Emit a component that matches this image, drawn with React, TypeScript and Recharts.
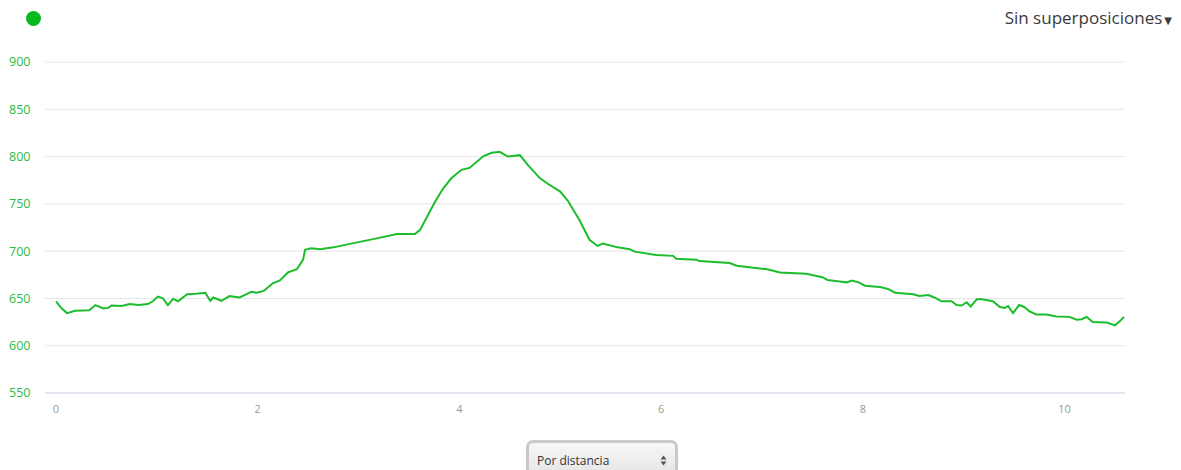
import { CartesianGrid, Line, LineChart, XAxis, YAxis } from "recharts";

const DISTANCE_KM = [
  0, 0.06, 0.11, 0.19, 0.33, 0.39, 0.47, 0.52, 0.55, 0.65, 0.73, 0.82, 0.91, 0.96, 1.01, 1.06, 1.11, 1.16, 1.21,
  1.3, 1.39, 1.48, 1.53, 1.56, 1.64, 1.72, 1.82, 1.89, 1.94, 1.99, 2.06, 2.15, 2.22, 2.3, 2.39, 2.45, 2.47, 2.53,
  2.62, 2.75, 2.95, 3.18, 3.38, 3.56, 3.61, 3.69, 3.76, 3.84, 3.92, 4.02, 4.1, 4.24, 4.32, 4.4, 4.48, 4.6, 4.68,
  4.8, 4.88, 5.0, 5.08, 5.19, 5.29, 5.37, 5.42, 5.57, 5.69, 5.74, 5.95, 6.12, 6.15, 6.35, 6.38, 6.68, 6.75, 7.04,
  7.18, 7.44, 7.6, 7.65, 7.77, 7.84, 7.89, 7.96, 8.02, 8.17, 8.25, 8.32, 8.5, 8.56, 8.65, 8.71, 8.78, 8.88, 8.93,
  8.98, 9.03, 9.07, 9.13, 9.18, 9.29, 9.36, 9.41, 9.44, 9.49, 9.55, 9.6, 9.65, 9.72, 9.82, 9.92, 10.05, 10.12,
  10.17, 10.22, 10.28, 10.42, 10.5, 10.55, 10.59
];

const ELEVATION_M = [
  647, 639, 634.5, 637, 637.5, 643, 639.5, 640, 642.5, 642, 644, 643, 644, 647, 652, 650, 643, 649.5, 647,
  654.5, 655, 656, 647.5, 651, 647.5, 652.5, 651, 654.5, 657, 656, 658, 666, 669, 677.5, 681, 691, 701.5, 703,
  702, 704, 708.5, 713.5, 718, 718, 722.5, 738.5, 752.5, 766.5, 777, 786, 788, 800.5, 804, 805, 800, 801.5, 791,
  777, 771, 763, 752.5, 733, 712, 705.5, 708, 704, 702, 699.5, 696, 695, 692, 691, 689.5, 687.5, 684.5, 681,
  677.5, 676, 672.5, 669.5, 668, 667, 669, 667, 663.5, 662, 660, 656, 654.5, 652.5, 653.5, 651, 647, 647, 643,
  642.5, 646, 641.5, 649, 649, 647, 641, 640, 642, 634.5, 643, 641, 636.5, 633, 633, 631, 630.5, 627.5,
  628, 630.5, 625, 624.5, 621.5, 626, 630.5
];

const X_TICKS = [0, 2, 4, 6, 8, 10];
const Y_TICKS = [550, 600, 650, 700, 750, 800, 850, 900];

const GREEN = "#1bbd2c";
const FONT = "'Open Sans', 'DejaVu Sans', sans-serif";

const chartData = DISTANCE_KM.map((km, i) => ({ km, elevation: ELEVATION_M[i] }));

// y labels sit left-aligned in the gutter, not against the plot
function YTick({ y, payload }: { y?: number; payload?: { value: number } }) {
  return (
    <text x={9} y={y} dy="0.35em" textAnchor="start" fill="#2cbb44" fontSize={12.5} fontFamily={FONT}>
      {payload?.value}
    </text>
  );
}

export default function App() {
  return (
    <div style={{ position: "absolute", left: 0, top: 0, width: 1181, height: 470, overflow: "hidden", background: "#fff", fontFamily: FONT }}>
      <LineChart width={1181} height={470} data={chartData} margin={{ top: 62, right: 56, bottom: 47, left: 0 }}>
        <CartesianGrid stroke="#e6e6e6" vertical={false} />
        <XAxis
          dataKey="km"
          type="number"
          domain={[0, 10.6]}
          ticks={X_TICKS}
          padding={{ left: 11, right: 0 }}
          height={30}
          tickLine={false}
          tickSize={0}
          tickMargin={12}
          stroke="#ccd6eb"
          tick={{ fill: "#999", fontSize: 11, fontFamily: FONT }}
        />
        <YAxis
          type="number"
          domain={[550, 900]}
          ticks={Y_TICKS}
          width={45}
          axisLine={false}
          tickLine={false}
          tick={<YTick />}
        />
        <Line
          type="linear"
          dataKey="elevation"
          stroke={GREEN}
          strokeWidth={2}
          dot={false}
          activeDot={false}
          isAnimationActive={false}
        />
      </LineChart>

      <div style={{ position: "absolute", left: 26, top: 11, width: 15, height: 15, borderRadius: "50%", background: "#0cb81f" }} />

      <div style={{ position: "absolute", right: 9, top: 6, fontSize: 17, color: "#3a3a3a", whiteSpace: "nowrap" }}>
        Sin superposiciones<span style={{ fontSize: 10, marginLeft: 2 }}>▼</span>
      </div>

      <div
        style={{
          position: "absolute",
          left: 526,
          top: 440,
          width: 152,
          height: 40,
          border: "3px solid #c9c9c9",
          borderRadius: 7,
          background: "linear-gradient(#f7f7f7, #e4e4e4)",
          boxSizing: "border-box",
          fontSize: 12,
          color: "#333"
        }}
      >
        <span style={{ position: "absolute", left: 8, top: 9 }}>Por distancia</span>
        <svg width={7} height={11} style={{ position: "absolute", right: 8, top: 12 }}>
          <path d="M0.5 4.5 L3.5 0.5 L6.5 4.5 Z M0.5 6.5 L3.5 10.5 L6.5 6.5 Z" fill="#555" />
        </svg>
      </div>
    </div>
  );
}
